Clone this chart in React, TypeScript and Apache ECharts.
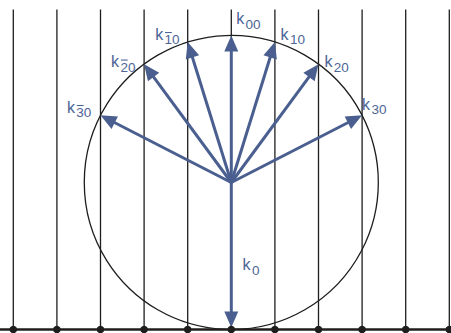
import React, { useEffect, useRef } from "react";
import * as echarts from "echarts";

// Reciprocal lattice rods (in units of the lattice spacing)
const LATTICE_RODS = [-5, -4, -3, -2, -1, 0, 1, 2, 3, 4, 5];
const ROD_TOP = 7.34;
// Ewald sphere radius (lattice units)
const SPHERE_RADIUS = 3.372;
// Diffracted beams hitting rods
const BEAM_ORDERS = [-3, -2, -1, 0, 1, 2, 3];
const BEAM_SUBS = ["30", "20", "10", "00", "10", "20", "30"];
const BEAM_BARRED = [true, true, true, false, false, false, false];
const INCIDENT_SUB = "0";

// label placement (pixel offsets of "k" left/baseline from arrow tip)
const LABEL_OFFSETS: number[][] = [
  [-33.5, -2.8],
  [-33, 3],
  [-32.5, -2.5],
  [5, -11.5],
  [5.7, -2.5],
  [6, 3],
  [0, -5.8],
];
const INCIDENT_LABEL_OFFSET = [11.3, -59.5];

const ARROW = "#4a5f8f";
const TEXT = "#4d6496";
const INK = "#1e1e1e";
const FONT = "Liberation Sans";
const K_SIZE = 16;
const SUB_SIZE = 13.5;

function arrowEls(p0: number[], p1: number[]) {
  const dx = p1[0] - p0[0];
  const dy = p1[1] - p0[1];
  const len = Math.sqrt(dx * dx + dy * dy);
  const ux = dx / len;
  const uy = dy / len;
  const hl = 16;
  const hw = 7;
  const bx = p1[0] - ux * hl;
  const by = p1[1] - uy * hl;
  return [
    {
      type: "line",
      shape: { x1: p0[0], y1: p0[1], x2: bx + ux * 2, y2: by + uy * 2 },
      style: { stroke: ARROW, lineWidth: 3 },
    },
    {
      type: "polygon",
      shape: {
        points: [
          [p1[0], p1[1]],
          [bx - uy * hw, by + ux * hw],
          [bx + uy * hw, by - ux * hw],
        ],
      },
      style: { fill: ARROW },
    },
  ];
}

function labelEls(left: number, baseline: number, sub: string, barred: boolean) {
  const els: any[] = [
    {
      type: "text",
      x: left,
      y: baseline - 0.3465 * K_SIZE,
      style: {
        text: "k",
        fill: TEXT,
        fontSize: K_SIZE,
        fontFamily: FONT,
        align: "left",
        verticalAlign: "middle",
      },
    },
  ];
  const sx = left + 9.3;
  const sb = baseline + 4.8;
  els.push({
    type: "text",
    x: sx,
    y: sb - 0.3465 * SUB_SIZE,
    style: {
      text: sub,
      fill: TEXT,
      fontSize: SUB_SIZE,
      fontFamily: FONT,
      align: "left",
      verticalAlign: "middle",
    },
  });
  if (barred) {
    const top = sb - 0.716 * SUB_SIZE - 2.2;
    els.push({
      type: "line",
      shape: { x1: sx + 0.5, y1: top, x2: sx + 0.556 * SUB_SIZE - 0.2, y2: top },
      style: { stroke: TEXT, lineWidth: 1.1 },
    });
  }
  return els;
}

export default function App() {
  const ref = useRef<HTMLDivElement>(null);
  useEffect(() => {
    if (!ref.current) return;
    const chart = echarts.init(ref.current, null, { renderer: "svg" });
    const option: any = {
      animation: false,
      grid: { left: 13.3, right: 1.7, top: 9.5, bottom: 3.5 },
      xAxis: { type: "value", min: -5, max: 5, show: false },
      yAxis: { type: "value", min: 0, max: ROD_TOP, show: false },
      series: [
        {
          type: "custom",
          clip: false,
          silent: true,
          data: LATTICE_RODS.map((n) => [n]),
          renderItem: (params: any, api: any) => {
            const n = api.value(0);
            const b = api.coord([n, 0]);
            const t = api.coord([n, ROD_TOP]);
            return {
              type: "line",
              shape: { x1: b[0], y1: b[1], x2: t[0], y2: t[1] },
              style: { stroke: INK, lineWidth: 1.3 },
            };
          },
        },
        {
          type: "custom",
          clip: false,
          silent: true,
          data: [[0, SPHERE_RADIUS, SPHERE_RADIUS]],
          renderItem: (params: any, api: any) => {
            const c = api.coord([api.value(0), api.value(1)]);
            const r = api.size([api.value(2), 0])[0];
            return {
              type: "circle",
              shape: { cx: c[0], cy: c[1], r },
              style: { fill: "none", stroke: INK, lineWidth: 1.3 },
            };
          },
        },
        {
          type: "custom",
          clip: false,
          silent: true,
          data: [[LATTICE_RODS[0] - 0.5, LATTICE_RODS[LATTICE_RODS.length - 1] + 0.5]],
          renderItem: (params: any, api: any) => {
            const a = api.coord([api.value(0), 0]);
            const b = api.coord([api.value(1), 0]);
            return {
              type: "line",
              shape: { x1: a[0], y1: a[1], x2: b[0], y2: b[1] },
              style: { stroke: INK, lineWidth: 2.6 },
            };
          },
        },
        {
          type: "custom",
          clip: false,
          silent: true,
          data: BEAM_ORDERS.map((n, i) => [n, i]),
          renderItem: (params: any, api: any) => {
            const n = api.value(0);
            const i = api.value(1);
            const R = SPHERE_RADIUS;
            const c = api.coord([0, R]);
            const tip = api.coord([n, R + Math.sqrt(R * R - n * n)]);
            const off = LABEL_OFFSETS[i];
            return {
              type: "group",
              children: [
                ...arrowEls(c, tip),
                ...labelEls(tip[0] + off[0], tip[1] + off[1], BEAM_SUBS[i], BEAM_BARRED[i]),
              ],
            };
          },
        },
        {
          type: "custom",
          clip: false,
          silent: true,
          data: [[0, SPHERE_RADIUS]],
          renderItem: (params: any, api: any) => {
            const c = api.coord([api.value(0), api.value(1)]);
            const tip = api.coord([api.value(0), 0]);
            tip[1] -= 2;
            return {
              type: "group",
              children: [
                ...arrowEls(c, tip),
                ...labelEls(
                  tip[0] + INCIDENT_LABEL_OFFSET[0],
                  tip[1] + 2 + INCIDENT_LABEL_OFFSET[1],
                  INCIDENT_SUB,
                  false
                ),
              ],
            };
          },
        },
        {
          type: "custom",
          clip: false,
          silent: true,
          data: LATTICE_RODS.map((n) => [n]),
          renderItem: (params: any, api: any) => {
            const b = api.coord([api.value(0), 0]);
            return {
              type: "circle",
              shape: { cx: b[0], cy: b[1], r: 3.8 },
              style: { fill: INK },
            };
          },
        },
      ],
    };
    chart.setOption(option);
    return () => chart.dispose();
  }, []);
  return (
    <div
      ref={ref}
      style={{ position: "absolute", left: 0, top: 0, width: 451, height: 333 }}
    />
  );
}
